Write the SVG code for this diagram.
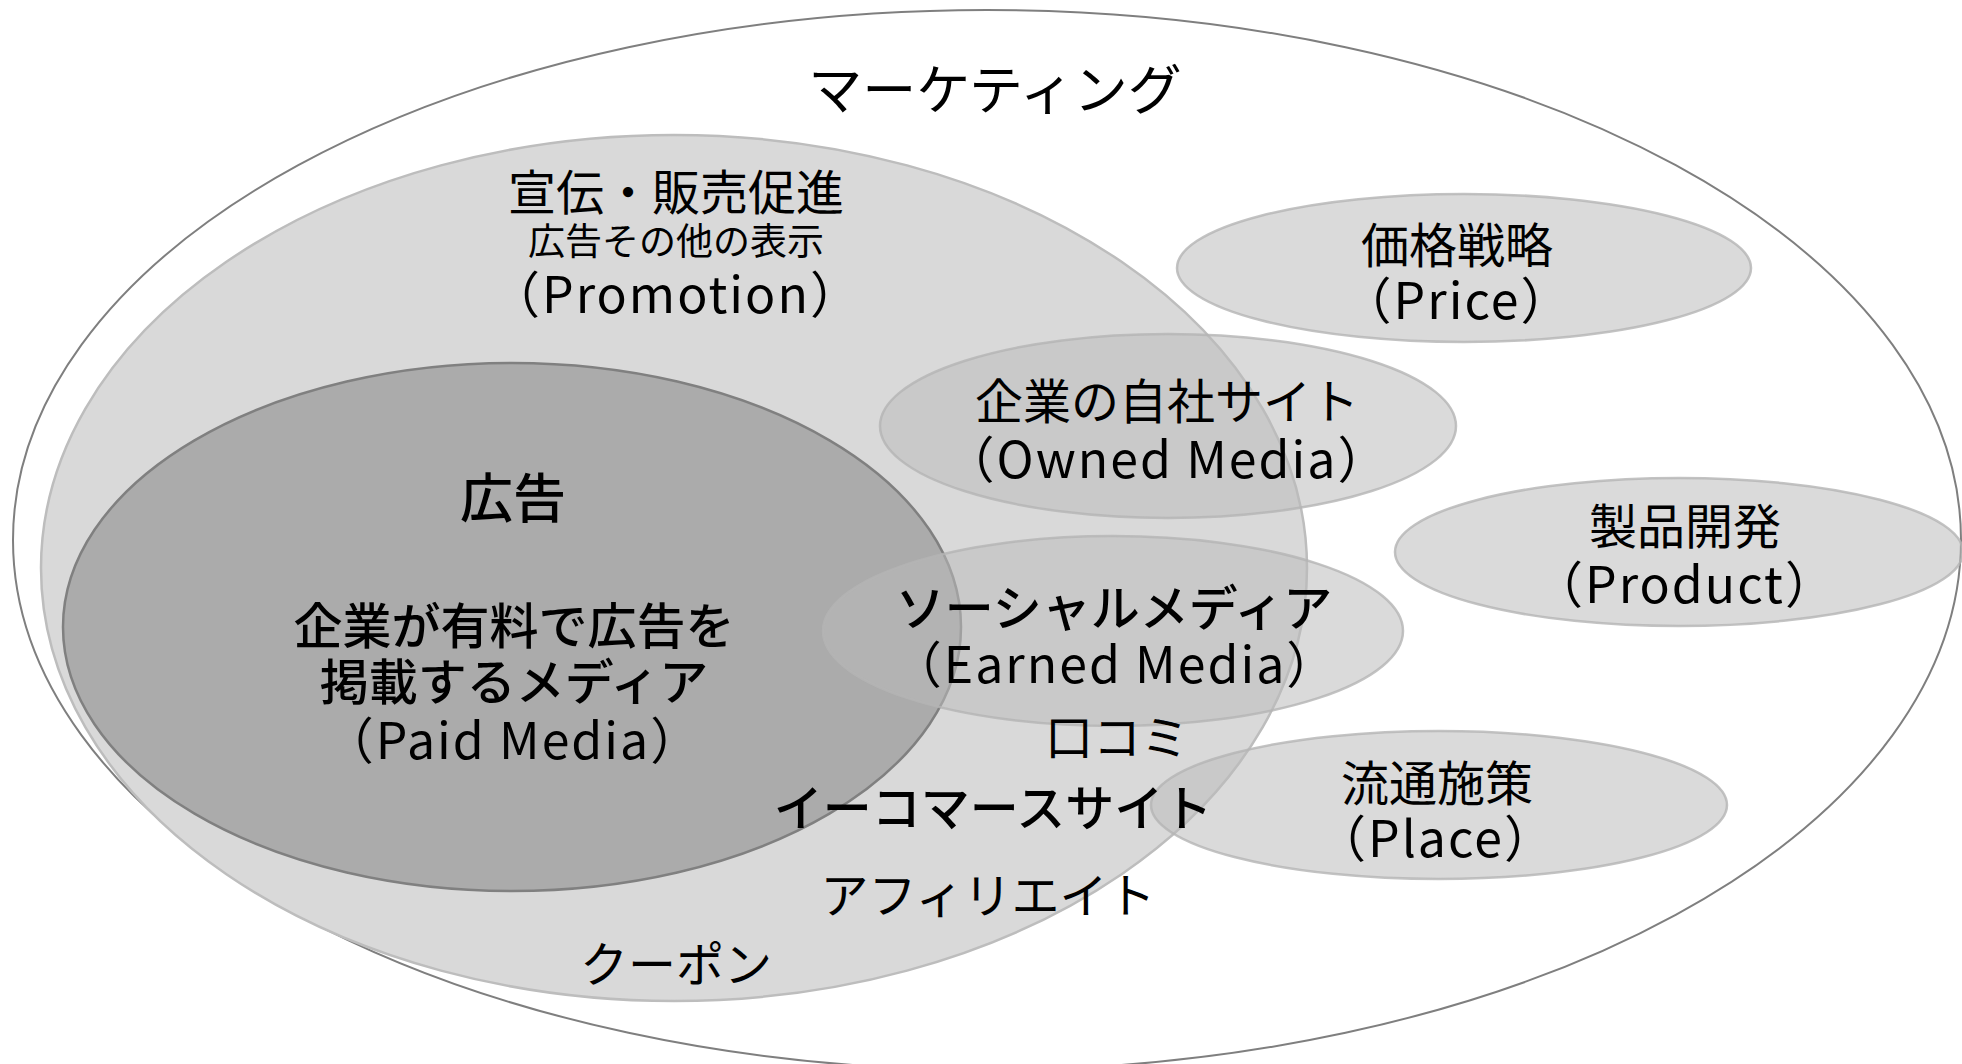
<svg xmlns="http://www.w3.org/2000/svg" width="1962" height="1064" viewBox="0 0 1962 1064">
<style>
.outer{fill:#ffffff;stroke:#7f7f7f;stroke-width:2}
.promo{fill:#d9d9d9;stroke:#bdbdbd;stroke-width:2.5}
.paid{fill:#ababab;stroke:#808080;stroke-width:2.5}
.small{fill:#bababa;fill-opacity:0.54;stroke:#b4b4b4;stroke-opacity:0.8;stroke-width:2.5}
text{font-family:"Noto Sans CJK JP","Noto Sans",sans-serif;fill:#000;text-anchor:middle}
.t{font-size:48px;font-weight:400}
.b{font-size:49px;font-weight:500}
.s{font-size:37px;font-weight:400}
.l{font-size:50px;font-weight:400;letter-spacing:2px}
</style>
<g id="marketing">
<ellipse class="outer" cx="987" cy="540" rx="974" ry="530"/>
<text class="t" x="995" y="110" style="font-size:54px">マーケティング</text>
</g>
<g id="promotion">
<ellipse class="promo" cx="674" cy="568" rx="633" ry="433"/>
<text class="t" x="676" y="210">宣伝・販売促進</text>
<text class="s" x="676" y="255">広告その他の表示</text>
<text class="l" x="676" y="313">（Promotion）</text>
</g>
<g id="paid-media">
<ellipse class="paid" cx="512" cy="627" rx="449" ry="264"/>
<text class="b" x="513" y="518" style="font-size:53px">広告</text>
<text class="b" x="514" y="644">企業が有料で広告を</text>
<text class="b" x="514" y="700">掲載するメディア</text>
<text class="l" x="513" y="759">（Paid Media）</text>
</g>
<g id="price">
<ellipse class="small" cx="1464" cy="268" rx="287" ry="74"/>
<text class="t" x="1457" y="263">価格戦略</text>
<text class="l" x="1457" y="319">（Price）</text>
</g>
<g id="owned-media">
<ellipse class="small" cx="1168" cy="426" rx="288" ry="92"/>
<text class="t" x="1167" y="419">企業の自社サイト</text>
<text class="l" x="1167" y="478">（Owned Media）</text>
</g>
<g id="product">
<ellipse class="small" cx="1679" cy="552" rx="284" ry="74"/>
<text class="t" x="1685" y="544">製品開発</text>
<text class="l" x="1685" y="603">（Product）</text>
</g>
<g id="earned-media">
<ellipse class="small" cx="1113" cy="631" rx="290" ry="95"/>
<text class="b" x="1114" y="626">ソーシャルメディア</text>
<text class="l" x="1115" y="683">（Earned Media）</text>
</g>
<g id="place">
<ellipse class="small" cx="1439" cy="805" rx="288" ry="74"/>
<text class="t" x="1437" y="801">流通施策</text>
<text class="l" x="1436" y="857">（Place）</text>
</g>
<g id="promotion-items">
<text class="t" x="1117" y="755">口コミ</text>
<text class="b" x="993" y="826">イーコマースサイト</text>
<text class="t" x="988" y="913">アフィリエイト</text>
<text class="t" x="676" y="982">クーポン</text>
</g>
<g id="connectors"/>
</svg>
